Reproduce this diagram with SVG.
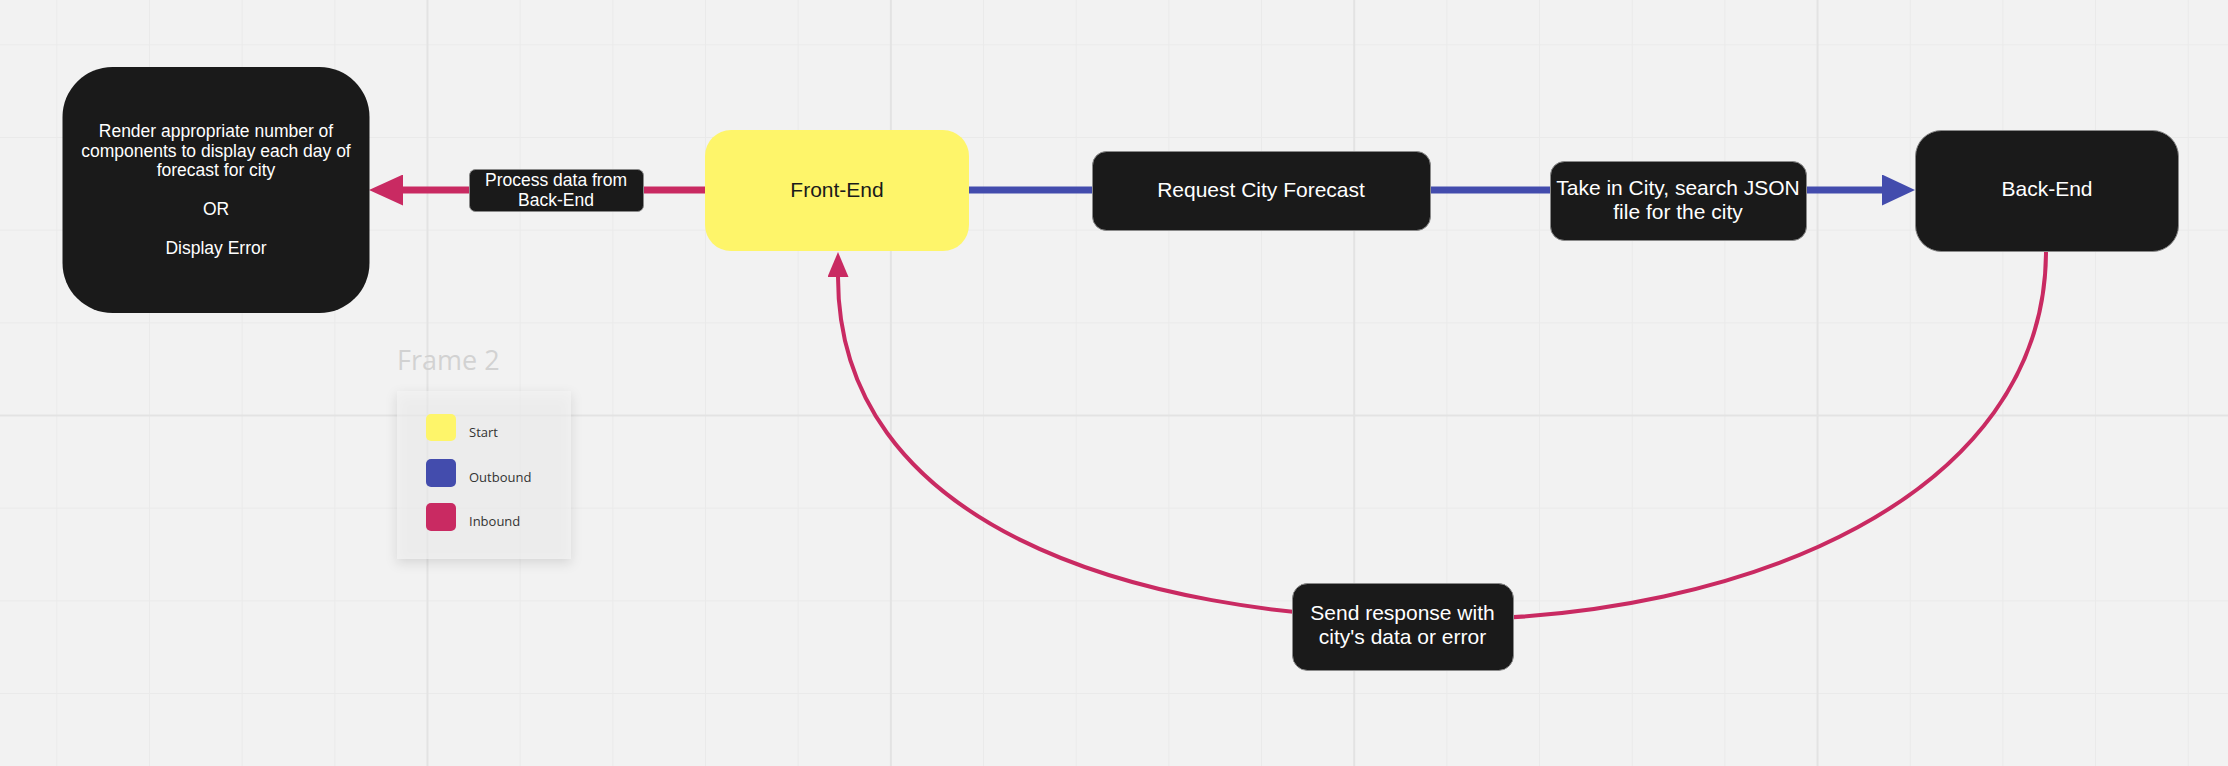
<svg xmlns="http://www.w3.org/2000/svg" width="2228" height="766" viewBox="0 0 2228 766">
  <defs>
    <style>
      .bg { fill: #f2f2f2; }
      .minor { stroke: #eaeaea; stroke-width: 1; }
      .major { stroke: #e2e2e2; stroke-width: 2; }
      .dark { fill: #1a1a1a; }
      .lbl { fill: #1a1a1a; stroke: #8a8a8a; stroke-width: 1; }
      .t { font-family: "Liberation Sans", Arial, sans-serif; text-anchor: middle; }
      .tw { fill: #ffffff; }
      .tk { fill: #1a1a1a; }
      .s21 { font-size: 21px; }
      .s17 { font-size: 17.5px; }
      .pinkline { fill: none; stroke: #c92a62; }
      .blueline { fill: none; stroke: #434cad; }
      .leg { font-family: "Open Sans", "Noto Sans", sans-serif; font-size: 13px; fill: #333333; }
    </style>
    <pattern id="gMinor" x="427" y="415" width="92.67" height="92.67" patternUnits="userSpaceOnUse">
      <rect x="0" y="0" width="92.67" height="1" fill="#eaeaea"/>
      <rect x="0" y="0" width="1" height="92.67" fill="#eaeaea"/>
    </pattern>
    <pattern id="gMajor" x="426.5" y="414.5" width="463.35" height="463.35" patternUnits="userSpaceOnUse">
      <rect x="0" y="0" width="463.35" height="2" fill="#e3e3e3"/>
      <rect x="0" y="0" width="2" height="463.35" fill="#e3e3e3"/>
    </pattern>
    <marker id="arrPink" viewBox="0 0 34 31" markerWidth="34" markerHeight="31" refX="0" refY="15.5" orient="auto" markerUnits="userSpaceOnUse">
      <path d="M0,0 L34,15.5 L0,31 Z" fill="#c92a62"/>
    </marker>
    <marker id="arrBlue" viewBox="0 0 34 31" markerWidth="34" markerHeight="31" refX="0" refY="15.5" orient="auto" markerUnits="userSpaceOnUse">
      <path d="M0,0 L33,15.5 L0,31 Z" fill="#434cad"/>
    </marker>
    <marker id="arrPinkSm" viewBox="0 0 25 21" markerWidth="25" markerHeight="21" refX="0" refY="10.5" orient="auto" markerUnits="userSpaceOnUse">
      <path d="M0,0 L25,10.5 L0,21 Z" fill="#c92a62"/>
    </marker>
    <filter id="shadow" x="-30%" y="-30%" width="160%" height="160%">
      <feDropShadow dx="0" dy="4" stdDeviation="6" flood-color="#000000" flood-opacity="0.22"/>
    </filter>
  </defs>

  <g id="background">
    <rect class="bg" x="0" y="0" width="2228" height="766"/>
    <rect x="0" y="0" width="2228" height="766" fill="url(#gMinor)"/>
    <rect x="0" y="0" width="2228" height="766" fill="url(#gMajor)"/>
  </g>

  <g id="legend-frame">
    <text x="397" y="370" font-family="'Open Sans', 'Noto Sans', sans-serif" font-size="27" fill="#d2d2d2">Frame 2</text>
    <rect x="397" y="391" width="174" height="168" fill="#f2f2f2" fill-opacity="0.55" filter="url(#shadow)"/>
    <rect x="426" y="414" width="30" height="27" rx="5" fill="#fef56a"/>
    <text class="leg" x="469" y="437">Start</text>
    <rect x="426" y="459" width="30" height="28" rx="5" fill="#434cad"/>
    <text class="leg" x="469" y="482">Outbound</text>
    <rect x="426" y="503" width="30" height="28" rx="5" fill="#c92a62"/>
    <text class="leg" x="469" y="526">Inbound</text>
  </g>

  <g id="connectors">
    <line class="pinkline" x1="705" y1="190" x2="403" y2="190" stroke-width="7" marker-end="url(#arrPink)"/>
    <line class="blueline" x1="969" y1="190" x2="1882" y2="190" stroke-width="7" marker-end="url(#arrBlue)"/>
    <path class="pinkline" d="M2046,251 C2046,497 1744,619.5 1442,619.5 C1120,619.5 838,520 838,277" stroke-width="4" marker-end="url(#arrPinkSm)"/>

    <g id="label-process">
      <rect class="lbl" x="469.5" y="169.5" width="174" height="42" rx="6"/>
      <text class="t tw s17" x="556" y="186">Process data from</text>
      <text class="t tw s17" x="556" y="206">Back-End</text>
    </g>
    <g id="label-take-in">
      <rect class="lbl" x="1550.5" y="161.5" width="256" height="79" rx="14"/>
      <text class="t tw s21" x="1678" y="194.5">Take in City, search JSON</text>
      <text class="t tw s21" x="1678" y="218.5">file for the city</text>
    </g>
    <g id="label-send">
      <rect class="lbl" x="1292.5" y="583.5" width="221" height="87" rx="15"/>
      <text class="t tw s21" x="1402.5" y="620">Send response with</text>
      <text class="t tw s21" x="1402.5" y="644">city's data or error</text>
    </g>
  </g>

  <g id="node-render">
    <rect class="dark" x="62.5" y="67" width="307" height="246" rx="50"/>
    <text class="t tw s17" x="216" y="137">Render appropriate number of</text>
    <text class="t tw s17" x="216" y="157">components to display each day of</text>
    <text class="t tw s17" x="216" y="176">forecast for city</text>
    <text class="t tw s17" x="216" y="215">OR</text>
    <text class="t tw s17" x="216" y="254">Display Error</text>
  </g>

  <g id="node-front-end">
    <rect x="705" y="130" width="264" height="121" rx="26" fill="#fef56a"/>
    <text class="t tk s21" x="837" y="197">Front-End</text>
  </g>

  <g id="node-request">
    <rect class="lbl" x="1092.5" y="151.5" width="338" height="79" rx="14"/>
    <text class="t tw s21" x="1261" y="197">Request City Forecast</text>
  </g>

  <g id="node-back-end">
    <rect class="lbl" x="1915.5" y="130.5" width="263" height="121" rx="26"/>
    <text class="t tw s21" x="2047" y="196">Back-End</text>
  </g>
</svg>
